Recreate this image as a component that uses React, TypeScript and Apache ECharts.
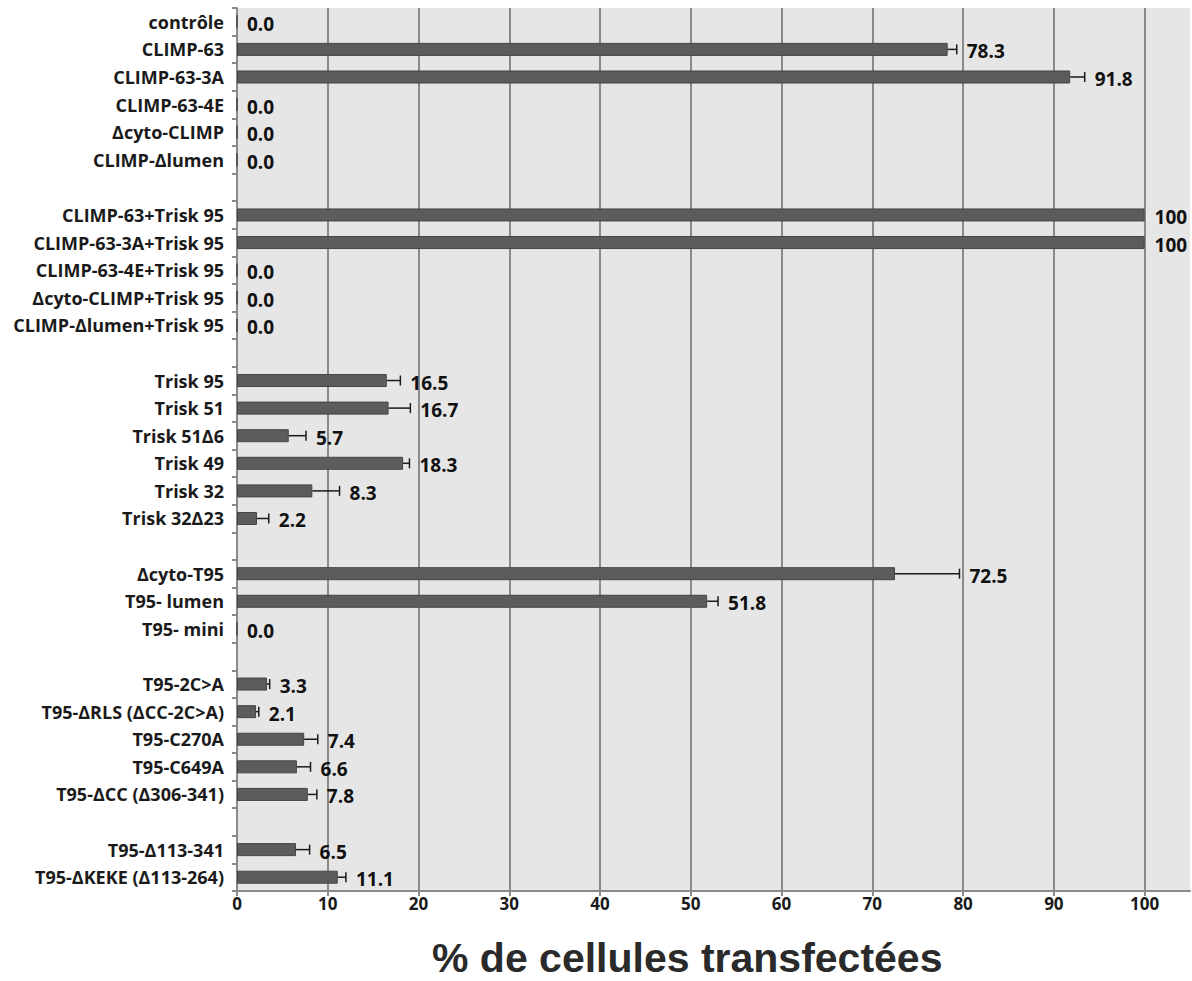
import React, { useEffect, useRef } from "react";
import * as echarts from "echarts";

const categories: string[] = [
  "contrôle",
  "CLIMP-63",
  "CLIMP-63-3A",
  "CLIMP-63-4E",
  "Δcyto-CLIMP",
  "CLIMP-Δlumen",
  "",
  "CLIMP-63+Trisk 95",
  "CLIMP-63-3A+Trisk 95",
  "CLIMP-63-4E+Trisk 95",
  "Δcyto-CLIMP+Trisk 95",
  "CLIMP-Δlumen+Trisk 95",
  " ",
  "Trisk 95",
  "Trisk 51",
  "Trisk 51Δ6",
  "Trisk 49",
  "Trisk 32",
  "Trisk 32Δ23",
  "  ",
  "Δcyto-T95",
  "T95- lumen",
  "T95- mini",
  "   ",
  "T95-2C>A",
  "T95-ΔRLS (ΔCC-2C>A)",
  "T95-C270A",
  "T95-C649A",
  "T95-ΔCC (Δ306-341)",
  "    ",
  "T95-Δ113-341",
  "T95-ΔKEKE (Δ113-264)",
];

const values: (number | null)[] = [
  0, 78.3, 91.8, 0, 0, 0,
  null,
  100, 100, 0, 0, 0,
  null,
  16.5, 16.7, 5.7, 18.3, 8.3, 2.2,
  null,
  72.5, 51.8, 0,
  null,
  3.3, 2.1, 7.4, 6.6, 7.8,
  null,
  6.5, 11.1,
];

const errors: (number | null)[] = [
  0, 1.0, 1.6, 0, 0, 0,
  null,
  0, 0, 0, 0, 0,
  null,
  1.5, 2.4, 1.9, 0.7, 3.0, 1.3,
  null,
  7.1, 1.2, 0,
  null,
  0.3, 0.3, 1.5, 1.5, 1.0,
  null,
  1.5, 0.9,
];

const xTicks: number[] = [0, 10, 20, 30, 40, 50, 60, 70, 80, 90, 100];

const axisTitle = "% de cellules transfectées";

const LABEL_FONT = "'Open Sans', Lato, sans-serif";

export default function App() {
  const ref = useRef<HTMLDivElement>(null);

  useEffect(() => {
    if (!ref.current) return;
    const chart = echarts.init(ref.current, undefined, { renderer: "svg" });

    const errData = values.map((v, i) =>
      v === null ? [null, i, null] : [v, i, errors[i] ?? 0]
    );

    const option: echarts.EChartsOption = {
      animation: false,
      backgroundColor: "#ffffff",
      grid: {
        left: 237,
        right: 2,
        top: 8,
        bottom: 90,
        show: true,
        backgroundColor: "#e6e6e6",
        borderWidth: 0,
      },
      xAxis: {
        type: "value",
        min: 0,
        max: 105,
        interval: 10,
        axisLine: { show: true, lineStyle: { color: "#8a8a8a", width: 2 } },
        axisTick: { show: true, length: 5, lineStyle: { color: "#8a8a8a", width: 2 } },
        axisLabel: {
          showMaxLabel: false,
          color: "#1a1a1a",
          fontFamily: LABEL_FONT,
          fontWeight: "bold",
          fontSize: 17,
          margin: 4,
          formatter: (v: number) => (xTicks.includes(v) ? String(v) : ""),
        },
        splitLine: {
          show: true,
          showMinLine: false,
          showMaxLine: false,
          lineStyle: { color: "#8a8a8a", width: 2 },
        },
      },
      yAxis: {
        type: "category",
        inverse: true,
        data: categories,
        axisLine: { show: true, lineStyle: { color: "#8a8a8a", width: 2 } },
        axisTick: { show: true, length: 5, lineStyle: { color: "#8a8a8a", width: 2 } },
        axisLabel: {
          color: "#1a1a1a",
          fontFamily: LABEL_FONT,
          fontWeight: "bold",
          fontSize: 18,
          margin: 13,
        },
        splitLine: { show: false },
      },
      series: [
        {
          type: "bar",
          data: values,
          barWidth: 13,
          itemStyle: { color: "#5c5c5c", borderColor: "#444444", borderWidth: 1 },
          z: 2,
        },
        {
          type: "custom",
          data: errData,
          encode: { x: 0, y: 1 },
          z: 3,
          renderItem: (params: any, api: any) => {
            const v = api.value(0);
            const idx = api.value(1);
            const e = api.value(2);
            if (v === null || isNaN(v)) return null;
            const p0 = api.coord([v, idx]);
            const p1 = api.coord([v + (e || 0), idx]);
            const children: any[] = [];
            if (e && e > 0) {
              children.push({
                type: "line",
                shape: { x1: p0[0], y1: p0[1], x2: p1[0], y2: p1[1] },
                style: { stroke: "#1a1a1a", lineWidth: 1.5 },
              });
              children.push({
                type: "line",
                shape: { x1: p1[0], y1: p1[1] - 5, x2: p1[0], y2: p1[1] + 5 },
                style: { stroke: "#1a1a1a", lineWidth: 1.5 },
              });
            }
            const label = v === 100 ? "100" : v.toFixed(1);
            children.push({
              type: "text",
              x: p1[0] + 10,
              y: p1[1] + 2,
              style: {
                text: label,
                fill: "#111111",
                font: `bold 19px ${LABEL_FONT}`,
                align: "left",
                verticalAlign: "middle",
              },
            });
            return { type: "group", children };
          },
        },
      ],
      graphic: [
        {
          type: "text",
          left: 432,
          top: 937,
          style: {
            text: axisTitle,
            fill: "#2a2a2a",
            font: "bold 41px 'Liberation Sans', Arial, sans-serif",
          },
        },
      ],
    };

    chart.setOption(option);
    return () => chart.dispose();
  }, []);

  return (
    <div
      ref={ref}
      style={{ position: "absolute", left: 0, top: 0, width: 1192, height: 981 }}
    />
  );
}
